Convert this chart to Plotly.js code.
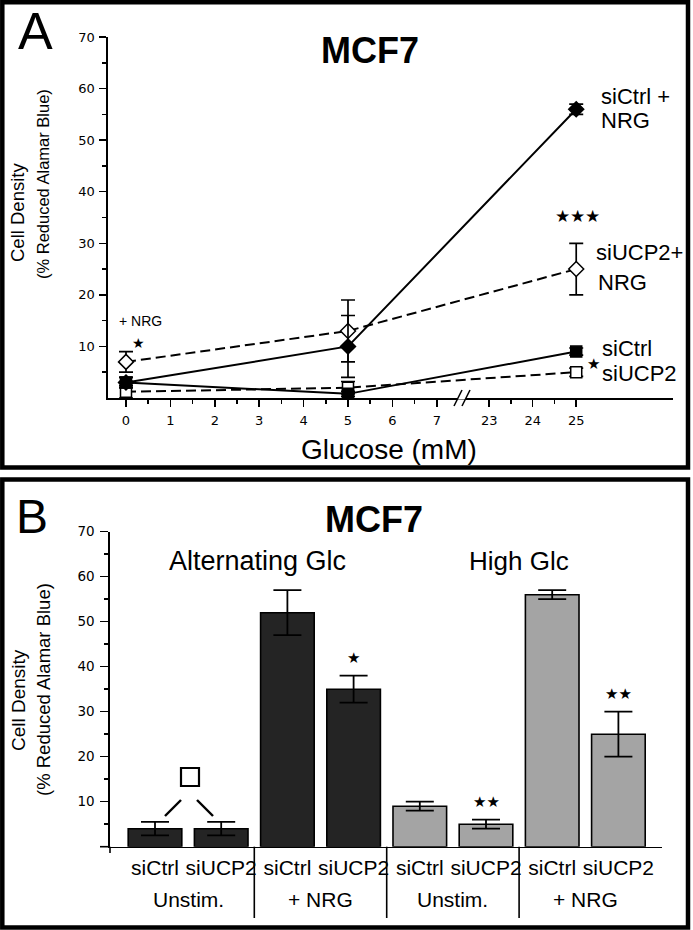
<!DOCTYPE html>
<html><head><meta charset="utf-8">
<script src="https://cdn.plot.ly/plotly-3.0.1.min.js"></script>
<style>html,body{margin:0;padding:0;background:#fff;} #chart{width:693px;height:930px;}</style>
</head><body><div id="chart"></div>
<script>
// ---------- Panel A data ----------
const glucose = [0, 5, 25];
const siCtrlNRG = [3, 10, 56];
const siCtrlNRGErr = [1, 6, 1];
const siUCP2NRG = [7, 13, 25];
const siUCP2NRGErr = [2, 6, 5];
const siCtrl = [3, 0.8, 9];
const siCtrlErr = [1, 0.5, 0.7];
const siUCP2 = [1.2, 2, 5];
const siUCP2Err = [1.2, 1.2, 0.8];
const glucoseTicks = [0, 1, 2, 3, 4, 5, 6, 7, 23, 24, 25];
const glucoseMinorTicks = [0.5, 1.5, 2.5, 3.5, 4.5, 5.5, 6.5, 23.5, 24.5];
const yTicks = [10, 20, 30, 40, 50, 60, 70];
const yMinorTicks = [5, 15, 25, 35, 45, 55, 65];

// ---------- Panel B data ----------
const barLabels = ['siCtrl', 'siUCP2', 'siCtrl', 'siUCP2', 'siCtrl', 'siUCP2', 'siCtrl', 'siUCP2'];
const groupLabels = ['Unstim.', '+ NRG', 'Unstim.', '+ NRG'];
const regimeLabels = ['Alternating Glc', 'High Glc'];
const barValues = [4, 4, 52, 35, 9, 5, 56, 25];
const barErrors = [1.5, 1.5, 5, 3, 1, 1, 1, 5];
const barStars = ['', '', '', '★', '', '★★', '', '★★'];

// ---------- geometry helpers ----------
const W = 693, H = 930;
const px = x => x / W;
const py = y => 1 - y / H;
// broken glucose axis: 0-7 linear, then 23-25
function gPos(g) { return g <= 7 ? g : 8.18 + (g - 23) * 0.98; }

const black = '#000';
const sans = 'Liberation Sans, Arial, sans-serif';
const tickFont = 'DejaVu Sans, Verdana, sans-serif';

const gx = glucose.map(gPos);
function lineTrace(y, err, dash, symbol, fill) {
  return {
    x: gx, y: y, xaxis: 'x', yaxis: 'y', type: 'scatter', mode: 'lines+markers',
    line: {color: black, width: 2, dash: dash},
    marker: {symbol: symbol, size: symbol.startsWith('diamond') ? 11.5 : 11, color: fill,
             line: {color: black, width: 1.5}},
    error_y: {type: 'data', array: err, visible: true, color: black, thickness: 1.7, width: 7},
    cliponaxis: false, showlegend: false, hoverinfo: 'skip'
  };
}
const traces = [
  lineTrace(siUCP2, siUCP2Err, '10px,5px', 'square', '#fff'),
  lineTrace(siCtrl, siCtrlErr, 'solid', 'square', black),
  lineTrace(siUCP2NRG, siUCP2NRGErr, '10px,5px', 'diamond', '#fff'),
  lineTrace(siCtrlNRG, siCtrlNRGErr, 'solid', 'diamond', black),
  {
    x: barLabels.map((_, i) => i), y: barValues, xaxis: 'x2', yaxis: 'y2', type: 'bar',
    width: 0.81,
    marker: {color: barValues.map((_, i) => i < 4 ? '#242424' : '#a4a4a4'), line: {color: black, width: 1.6}},
    error_y: {type: 'data', array: barErrors, visible: true, color: black, thickness: 1.8, width: 14},
    showlegend: false, hoverinfo: 'skip', cliponaxis: false
  }
];

// axis ranges from pixel geometry
const aRange = [(108 - 126) / 44.4, (673 - 126) / 44.4];
const bRange = [(110 - 155) / 66.2, (661.7 - 155) / 66.2];

const annotations = [];
function ann(text, x, y, size, opts) {
  annotations.push(Object.assign({text: text, x: px(x), y: py(y), xref: 'paper', yref: 'paper',
    showarrow: false, xanchor: 'center', yanchor: 'middle',
    font: {family: sans, size: size, color: black}}, opts || {}));
}
// Panel letters and titles
ann('A', 35, 31, 52);
ann('B', 32, 516, 48);
ann('<b>MCF7</b>', 370, 51, 36);
ann('<b>MCF7</b>', 374, 519, 36);
// y titles
ann('Cell Density', 18, 213, 18.5, {textangle: -90});
ann('(% Reduced Alamar Blue)', 43, 184, 16.5, {textangle: -90});
ann('Cell Density', 18, 700, 19, {textangle: -90});
ann('(% Reduced Alamar Blue)', 43, 690, 18.5, {textangle: -90});
// x title A
ann('Glucose (mM)', 389, 449, 28);
// series labels A
const lab = (t, x, y, s) => ann(t, x, y, s || 22, {xanchor: 'left'});
lab('siCtrl +', 599, 97);
lab('NRG', 599, 120);
lab('siUCP2+', 594, 252);
lab('NRG', 596, 282);
lab('siCtrl', 600, 348);
lab('siUCP2', 600, 374);
ann('+ NRG', 140, 321, 14);
ann('★', 138, 343, 14);
ann('★★★', 577, 216, 17);
ann('★', 593, 363, 15);
// Panel B regime labels
ann(regimeLabels[0], 257, 561, 27);
ann(regimeLabels[1], 519, 561, 26);
// group labels under bars
const bx = i => 155 + i * 66.2;
groupLabels.forEach((g, k) => ann(g, (bx(2 * k) + bx(2 * k + 1)) / 2, 899, 21));
// significance stars on bars
barStars.forEach((s, i) => {
  if (!s) return;
  annotations.push({text: s, x: i, y: barValues[i] + barErrors[i], xref: 'x2', yref: 'y2',
    yshift: 18, showarrow: false, font: {family: tickFont, size: 15, color: black}});
});

const shapes = [];
const lineShape = (x0, y0, x1, y1, w) => shapes.push({type: 'line', xref: 'paper', yref: 'paper',
  x0: px(x0), y0: py(y0), x1: px(x1), y1: py(y1), line: {color: black, width: w || 1.6}});
// panel borders
shapes.push({type: 'rect', xref: 'paper', yref: 'paper', x0: px(2.3), x1: px(688), y0: py(2.3), y1: py(467.5),
  line: {color: black, width: 4.5}});
shapes.push({type: 'rect', xref: 'paper', yref: 'paper', x0: px(2.3), x1: px(688), y0: py(479.5), y1: py(927.5),
  line: {color: black, width: 4.5}});
// axis break marks
shapes.push({type: 'rect', xref: 'paper', yref: 'paper', x0: px(458), x1: px(466), y0: py(396.5), y1: py(399.5),
  line: {width: 0}, fillcolor: '#fff'});
lineShape(454, 406, 462, 390, 1.6);
lineShape(462, 406, 470, 390, 1.6);
// panel B axis extensions
lineShape(100, 846.7, 110, 846.7, 1.6);
lineShape(110, 846.7, 110, 853, 1.6);
// group dividers
[1.5, 3.5, 5.5].forEach(d => lineShape(155 + d * 66.2, 846.7, 155 + d * 66.2, 918, 1.6));
// open square significance marker with diagonals
shapes.push({type: 'rect', xref: 'paper', yref: 'paper', x0: px(181), x1: px(199), y0: py(768), y1: py(786),
  line: {color: black, width: 2.2}});
lineShape(165, 816, 181, 800, 2.4);
lineShape(197, 800, 213, 816, 2.4);

const axBase = {showgrid: false, zeroline: false, showline: true, linecolor: black, linewidth: 1.7,
  ticks: 'outside', tickcolor: black, tickwidth: 1.5, ticklen: 7, fixedrange: true};

const layout = {
  width: W, height: H, margin: {l: 0, r: 0, t: 0, b: 0},
  paper_bgcolor: '#fff', plot_bgcolor: 'rgba(0,0,0,0)', showlegend: false,
  xaxis: Object.assign({}, axBase, {domain: [px(108), px(673)], range: aRange, anchor: 'y',
    tickmode: 'array', tickvals: glucoseTicks.map(gPos), ticktext: glucoseTicks.map(String),
    tickfont: {family: tickFont, size: 13, color: black}, ticklabelstandoff: 3,
    minor: {tickmode: 'array', tickvals: glucoseMinorTicks.map(gPos), ticks: 'outside', ticklen: 4,
            tickcolor: black, tickwidth: 1.5}}),
  yaxis: Object.assign({}, axBase, {domain: [py(398), py(37)], range: [0, 70], anchor: 'x',
    tickmode: 'array', tickvals: yTicks, ticktext: yTicks.map(String),
    tickfont: {family: tickFont, size: 13, color: black}, ticklabelstandoff: 2,
    minor: {tickmode: 'array', tickvals: yMinorTicks, ticks: 'outside', ticklen: 4,
            tickcolor: black, tickwidth: 1.5}}),
  xaxis2: Object.assign({}, axBase, {domain: [px(110), px(661.7)], range: bRange, anchor: 'y2',
    ticks: '', tickmode: 'array', tickvals: barLabels.map((_, i) => i), ticktext: barLabels,
    tickfont: {family: sans, size: 21, color: black}, ticklabelstandoff: 1}),
  yaxis2: Object.assign({}, axBase, {domain: [py(846.7), py(531.7)], range: [0, 70], anchor: 'x2',
    tickmode: 'array', tickvals: yTicks, ticktext: yTicks.map(String), ticklen: 8,
    tickfont: {family: tickFont, size: 13.5, color: black}, ticklabelstandoff: 3,
    minor: {tickmode: 'array', tickvals: yMinorTicks, ticks: 'outside', ticklen: 4,
            tickcolor: black, tickwidth: 1.5}}),
  annotations: annotations, shapes: shapes
};

Plotly.newPlot('chart', traces, layout, {staticPlot: true, displayModeBar: false});
</script></body></html>
